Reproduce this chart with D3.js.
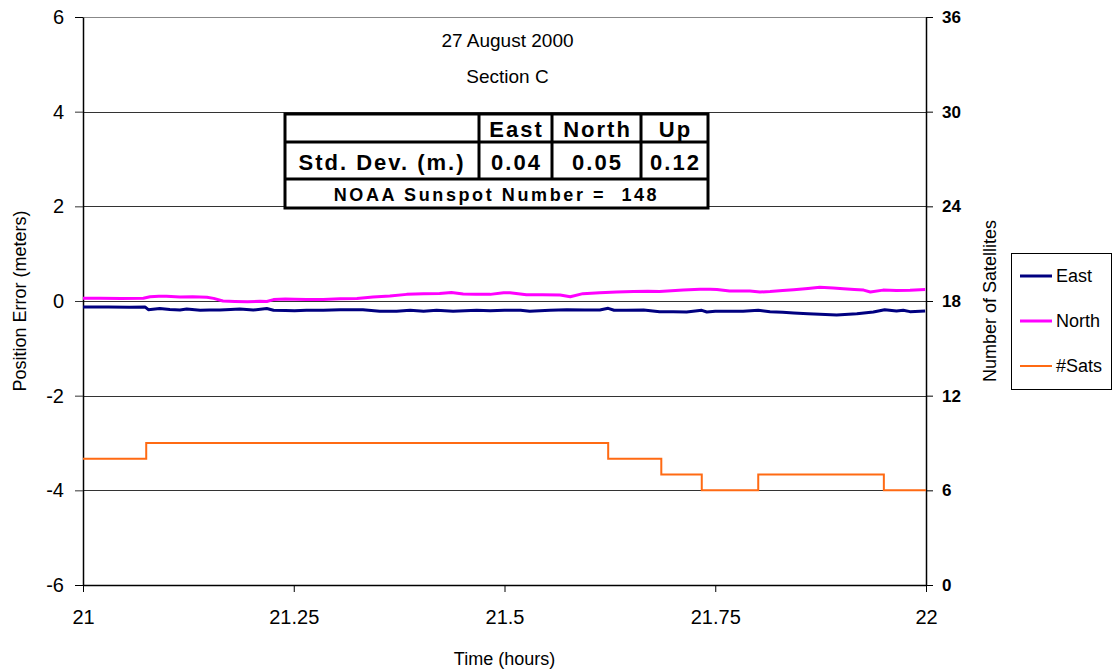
<!DOCTYPE html>
<html>
<head>
<meta charset="utf-8">
<script src="https://cdn.jsdelivr.net/npm/d3@7"></script>
<style>
  body { margin: 0; background: #fff; }
  svg { display: block; font-family: Arial, 'Liberation Sans', sans-serif; }
</style>
</head>
<body>
<div id="chart"></div>
<script>
// ---- data ----
const titleLines = ['27 August 2000', 'Section C']
const xTicks = [21, 21.25, 21.5, 21.75, 22]
const yTicks = [-6, -4, -2, 0, 2, 4, 6]
const satTicks = [0, 6, 12, 18, 24, 30, 36]

const eastTimes = [21.000, 21.030, 21.055, 21.0735, 21.0775, 21.091, 21.103, 21.115, 21.123, 21.139, 21.150, 21.1625, 21.175, 21.186, 21.202, 21.218, 21.226, 21.240, 21.251, 21.265, 21.285, 21.305, 21.332, 21.352, 21.372, 21.388, 21.404, 21.4195, 21.439, 21.453, 21.467, 21.483, 21.500, 21.519, 21.530, 21.554, 21.574, 21.595, 21.613, 21.623, 21.630, 21.645, 21.665, 21.684, 21.700, 21.716, 21.734, 21.740, 21.750, 21.765, 21.783, 21.801, 21.815, 21.830, 21.843, 21.860, 21.874, 21.894, 21.918, 21.9375, 21.951, 21.965, 21.973, 21.981, 21.999]
const eastValues = [-0.127, -0.125, -0.13, -0.125, -0.183, -0.16, -0.18, -0.19, -0.17, -0.197, -0.19, -0.19, -0.18, -0.17, -0.19, -0.16, -0.197, -0.2, -0.204, -0.197, -0.197, -0.183, -0.183, -0.218, -0.218, -0.197, -0.218, -0.197, -0.218, -0.205, -0.197, -0.204, -0.197, -0.197, -0.218, -0.197, -0.183, -0.19, -0.19, -0.155, -0.195, -0.197, -0.19, -0.225, -0.225, -0.232, -0.197, -0.232, -0.215, -0.218, -0.218, -0.197, -0.225, -0.24, -0.253, -0.27, -0.282, -0.296, -0.268, -0.232, -0.183, -0.211, -0.197, -0.225, -0.211]

const northTimes = [21.000, 21.020, 21.045, 21.0716, 21.0795, 21.090, 21.099, 21.115, 21.130, 21.147, 21.155, 21.166, 21.180, 21.195, 21.210, 21.218, 21.226, 21.240, 21.251, 21.265, 21.285, 21.305, 21.325, 21.344, 21.364, 21.384, 21.404, 21.423, 21.437, 21.451, 21.466, 21.483, 21.499, 21.5065, 21.526, 21.545, 21.566, 21.578, 21.593, 21.613, 21.633, 21.653, 21.670, 21.684, 21.698, 21.712, 21.732, 21.744, 21.752, 21.767, 21.791, 21.803, 21.815, 21.830, 21.843, 21.860, 21.874, 21.890, 21.902, 21.915, 21.926, 21.934, 21.949, 21.965, 21.981, 21.999]
const northValues = [0.06, 0.06, 0.055, 0.06, 0.09, 0.1, 0.1, 0.085, 0.09, 0.08, 0.055, 0.0, -0.01, -0.015, -0.005, -0.01, 0.03, 0.04, 0.035, 0.03, 0.03, 0.05, 0.055, 0.085, 0.105, 0.14, 0.155, 0.16, 0.18, 0.15, 0.145, 0.14, 0.175, 0.175, 0.13, 0.13, 0.125, 0.09, 0.155, 0.175, 0.19, 0.2, 0.205, 0.2, 0.215, 0.23, 0.25, 0.25, 0.245, 0.21, 0.21, 0.19, 0.2, 0.22, 0.24, 0.265, 0.29, 0.275, 0.26, 0.245, 0.23, 0.19, 0.23, 0.22, 0.225, 0.245]

// number of satellites changes in steps
const satTimes = [21, 21.075, 21.623, 21.686, 21.734, 21.801, 21.950, 22]
const satCounts = [8, 9, 8, 7, 6, 7, 6, 6]

const tableHeads = ['East', 'North', 'Up']
const stdDevs = ['0.04', '0.05', '0.12']
const sunspotNumber = 148

const drawChart = () => {
  const dims = { width: 1112, height: 671, left: 83, top: 17, right: 186, bottom: 86 }
  const innerWidth = dims.width - dims.left - dims.right
  const innerHeight = dims.height - dims.top - dims.bottom

  const svg = d3.select('#chart')
    .append('svg')
    .attr('width', dims.width)
    .attr('height', dims.height)

  const canvas = svg.append('g')
    .attr('transform', `translate(${dims.left}, ${dims.top})`)

  const xScale = d3.scaleLinear().domain([21, 22]).range([0, innerWidth])
  const yScale = d3.scaleLinear().domain([-6, 6]).range([innerHeight, 0])
  const satScale = d3.scaleLinear().domain([0, 36]).range([innerHeight, 0])

  // gridlines (top one lighter, like excel's plot border)
  canvas.append('g')
    .selectAll('line')
    .data(yTicks.filter(d => d > -6))
    .join('line')
    .attr('x1', 0)
    .attr('x2', innerWidth)
    .attr('y1', d => Math.round(yScale(d)) + 0.5)
    .attr('y2', d => Math.round(yScale(d)) + 0.5)
    .attr('stroke', d => d === 6 ? '#888' : '#333')
    .attr('stroke-width', 1)

  // axes
  const styleAxis = (g) => {
    g.select('.domain').attr('stroke', '#000').attr('stroke-width', 1.5)
    g.selectAll('.tick line').attr('stroke', '#000')
  }

  // excel prints a plain hyphen for negatives
  canvas.append('g')
    .call(d3.axisLeft(yScale).tickValues(yTicks).tickFormat(d => String(d)).tickSize(8).tickPadding(11).tickSizeOuter(0))
    .call(styleAxis)
    .call(g => g.selectAll('.tick text').attr('font-size', 20).attr('fill', '#000'))
    .call(g => g.selectAll('.tick line').filter(d => d !== 6 && d !== -6).attr('stroke', '#333'))

  canvas.append('g')
    .attr('transform', `translate(${innerWidth}, 0)`)
    .call(d3.axisRight(satScale).tickValues(satTicks).tickSize(7).tickPadding(9).tickSizeOuter(0))
    .call(styleAxis)
    .call(g => g.selectAll('.tick text').attr('font-size', 17).attr('font-weight', 'bold').attr('fill', '#000'))

  canvas.append('g')
    .attr('transform', `translate(0, ${innerHeight})`)
    .call(d3.axisBottom(xScale).tickValues(xTicks).tickFormat(d => String(d)).tickSize(7).tickPadding(18).tickSizeOuter(0))
    .call(styleAxis)
    .call(g => g.selectAll('.tick text').attr('font-size', 20).attr('fill', '#000'))

  // axis titles
  svg.append('text')
    .attr('x', dims.left + innerWidth / 2)
    .attr('y', 665)
    .attr('text-anchor', 'middle')
    .attr('font-size', 18)
    .text('Time (hours)')

  svg.append('text')
    .attr('transform', `translate(26, ${dims.top + innerHeight / 2}) rotate(-90)`)
    .attr('text-anchor', 'middle')
    .attr('font-size', 18)
    .text('Position Error (meters)')

  svg.append('text')
    .attr('transform', `translate(996, ${dims.top + innerHeight / 2}) rotate(-90)`)
    .attr('text-anchor', 'middle')
    .attr('font-size', 18)
    .text('Number of Satellites')

  // title inside the plot
  canvas.append('g')
    .selectAll('text')
    .data(titleLines)
    .join('text')
    .attr('x', innerWidth / 2 + 3)
    .attr('y', (d, i) => 30 + i * 36)
    .attr('text-anchor', 'middle')
    .attr('font-size', 19)
    .text(d => d)

  // lines
  const eastData = eastTimes.map((t, i) => ({ t, v: eastValues[i] }))
  const northData = northTimes.map((t, i) => ({ t, v: northValues[i] }))
  const satData = satTimes.map((t, i) => ({ t, v: satCounts[i] }))

  const errLine = d3.line()
    .x(d => xScale(d.t))
    .y(d => yScale(d.v))

  const satLine = d3.line()
    .x(d => xScale(d.t))
    .y(d => satScale(d.v))
    .curve(d3.curveStepAfter)

  canvas.append('path')
    .datum(satData)
    .attr('d', satLine)
    .attr('fill', 'none')
    .attr('stroke', '#ff6a13')
    .attr('stroke-width', 2)

  canvas.append('path')
    .datum(northData)
    .attr('d', errLine)
    .attr('fill', 'none')
    .attr('stroke', '#ff00ff')
    .attr('stroke-width', 3)
    .attr('stroke-linejoin', 'round')

  canvas.append('path')
    .datum(eastData)
    .attr('d', errLine)
    .attr('fill', 'none')
    .attr('stroke', '#000080')
    .attr('stroke-width', 3)
    .attr('stroke-linejoin', 'round')

  // stats table
  const table = svg.append('g')
  const tx = [285, 479, 552, 641, 708]
  const ty = [114, 142, 179, 208]

  table.append('rect')
    .attr('x', tx[0])
    .attr('y', ty[0])
    .attr('width', tx[4] - tx[0])
    .attr('height', ty[3] - ty[0])
    .attr('fill', '#fff')
    .attr('stroke', '#000')
    .attr('stroke-width', 3)

  table.selectAll('.hline')
    .data([ty[1], ty[2]])
    .join('line')
    .attr('x1', tx[0])
    .attr('x2', tx[4])
    .attr('y1', d => d)
    .attr('y2', d => d)
    .attr('stroke', '#000')
    .attr('stroke-width', 3)

  table.selectAll('.vline')
    .data([tx[1], tx[2], tx[3]])
    .join('line')
    .attr('x1', d => d)
    .attr('x2', d => d)
    .attr('y1', ty[0])
    .attr('y2', ty[2])
    .attr('stroke', '#000')
    .attr('stroke-width', 3)

  const cellText = (x, y, str, size, spacing) => table.append('text')
    .attr('x', x)
    .attr('y', y)
    .attr('text-anchor', 'middle')
    .attr('font-size', size)
    .attr('font-weight', 'bold')
    .attr('letter-spacing', spacing)
    .text(str)

  tableHeads.forEach((h, i) => cellText((tx[i + 1] + tx[i + 2]) / 2 + 1, 137, h, 22, 2))
  cellText((tx[0] + tx[1]) / 2, 170, 'Std. Dev. (m.)', 22, 2)
  stdDevs.forEach((s, i) => cellText((tx[i + 1] + tx[i + 2]) / 2 + 1, 170, s, 22, 2))
  cellText((tx[0] + tx[4]) / 2, 201, `NOAA Sunspot Number =  ${sunspotNumber}`, 18, 2.6)
    .attr('xml:space', 'preserve')

  // legend
  const legendItems = [
    { name: 'East', color: '#000080', width: 3 },
    { name: 'North', color: '#ff00ff', width: 3 },
    { name: '#Sats', color: '#ff6a13', width: 2 }
  ]
  const legend = svg.append('g').attr('transform', 'translate(1011, 253)')
  legend.append('rect')
    .attr('x', 0.5)
    .attr('y', 0.5)
    .attr('width', 100)
    .attr('height', 136)
    .attr('fill', '#fff')
    .attr('stroke', '#000')

  const rows = legend.selectAll('.item')
    .data(legendItems)
    .join('g')
    .attr('transform', (d, i) => `translate(0, ${23 + i * 45})`)

  rows.append('line')
    .attr('x1', 9)
    .attr('x2', 41)
    .attr('stroke', d => d.color)
    .attr('stroke-width', d => d.width)

  rows.append('text')
    .attr('x', 45)
    .attr('dy', '0.35em')
    .attr('font-size', 18)
    .text(d => d.name)
}

drawChart()
</script>
</body>
</html>
